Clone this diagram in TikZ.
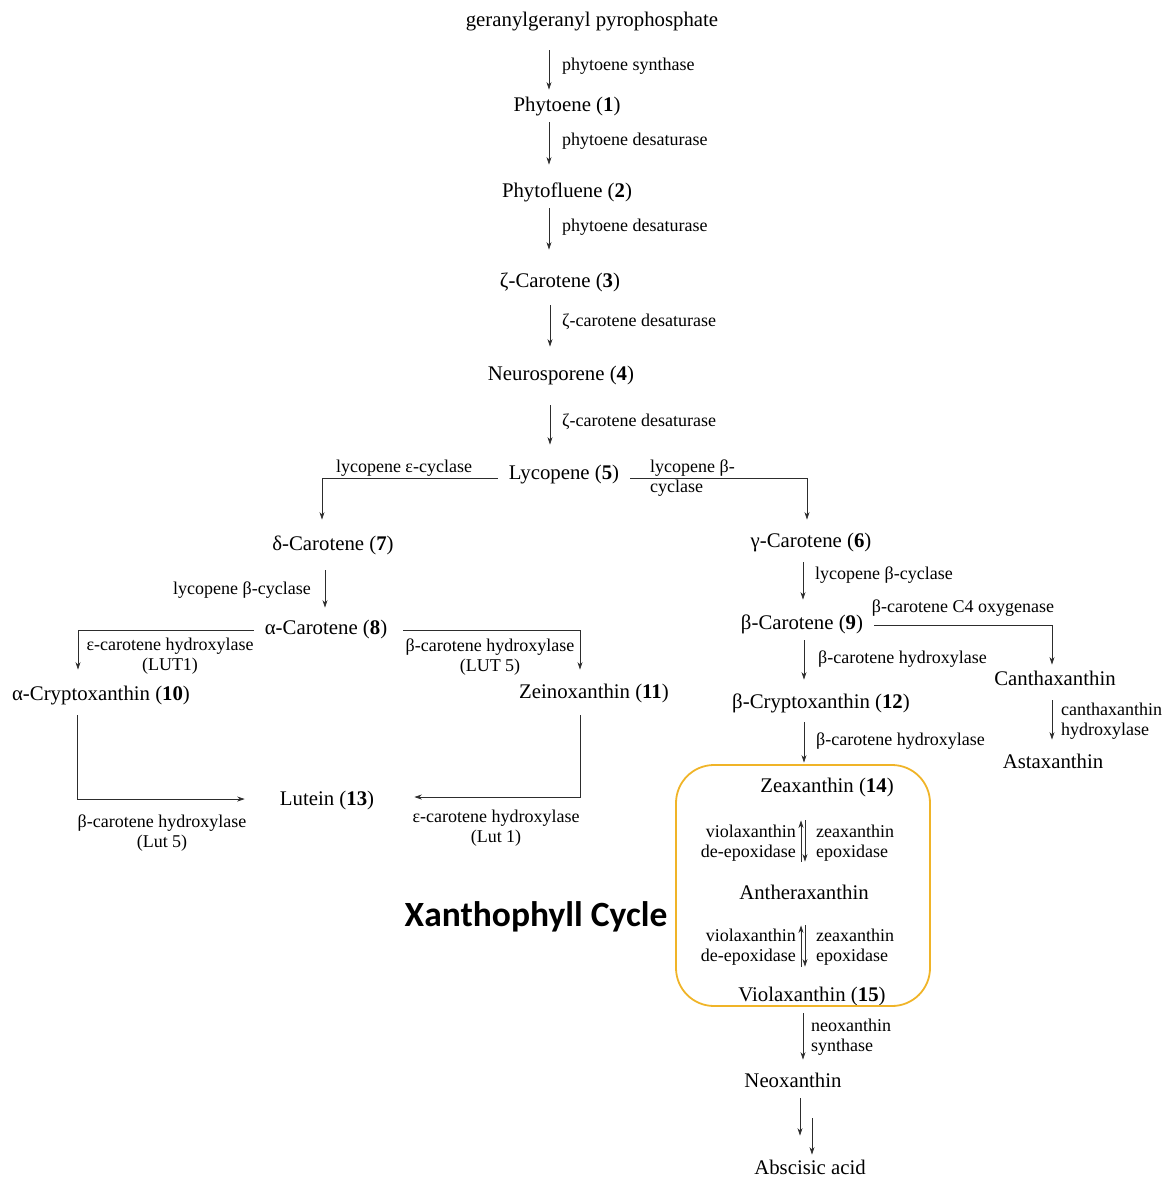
\documentclass[tikz,border=0pt]{standalone}
\usepackage{fontspec}
\setmainfont{Liberation Serif}
\newfontfamily\xcfont{Carlito}
\usetikzlibrary{arrows.meta,calc}
\definecolor{boxorange}{RGB}{240,180,40}
\definecolor{arrgray}{RGB}{45,45,45}
\begin{document}
\begin{tikzpicture}[x=1pt,y=-1pt,
  main/.style={font=\fontsize{20.8}{24}\selectfont, inner sep=0pt, text height=17pt, text depth=1.5pt},
  enz/.style={font=\fontsize{18}{20.5}\selectfont, inner sep=0pt, yshift=-2pt},
  arr/.style={draw=arrgray, line width=0.8pt, -{Stealth[length=7.5pt,width=5pt]}},
]
\useasboundingbox (0,0) rectangle (1167,1177);

% main compounds
\node[main] (n0) at (592,19) {geranylgeranyl pyrophosphate};
\node[main] (n1) at (567,104) {Phytoene (\textbf{1})};
\node[main] (n2) at (567,190) {Phytofluene (\textbf{2})};
\node[main] (n3) at (560,280) {ζ-Carotene (\textbf{3})};
\node[main] (n4) at (561,373) {Neurosporene (\textbf{4})};
\node[main] (n5) at (564,472) {Lycopene (\textbf{5})};
\node[main] (n7) at (333,543) {δ-Carotene (\textbf{7})};
\node[main] (n6) at (811,540) {γ-Carotene (\textbf{6})};
\node[main] (n8) at (326,627) {α-Carotene (\textbf{8})};
\node[main] (n9) at (802,622) {β-Carotene (\textbf{9})};
\node[main] (n10) at (101,693) {α-Cryptoxanthin (\textbf{10})};
\node[main] (n11) at (594,691) {Zeinoxanthin (\textbf{11})};
\node[main] (can) at (1055,678) {Canthaxanthin};
\node[main] (n12) at (821,701) {β-Cryptoxanthin (\textbf{12})};
\node[main] (ast) at (1053,761) {Astaxanthin};
\node[main] (n13) at (327,798) {Lutein (\textbf{13})};
\node[main] (n14) at (827,785) {Zeaxanthin (\textbf{14})};
\node[main] (ant) at (804,892) {Antheraxanthin};
\node[main] (n15) at (812,994) {Violaxanthin (\textbf{15})};
\node[main] (neo) at (793,1080) {Neoxanthin};
\node[main] (aba) at (810,1167) {Abscisic acid};

\node[font=\xcfont\bfseries\fontsize{35.5}{40}\selectfont, inner sep=0pt] (xc) at (536,917) {Xanthophyll Cycle};

% xanthophyll cycle box
\draw[boxorange, line width=1.8pt, rounded corners=38pt] (676,765) rectangle (930,1006);

% axis helpers
\coordinate (ax1) at (549,0);
\coordinate (ax2) at (550,0);

% linear chain
\draw[arr] ($(n0.south-|ax1)+(0,22)$) -- ($(n1.north-|ax1)+(0,-5)$);
\node[enz, anchor=west] (e1) at (562,64) {phytoene synthase};
\draw[arr] ($(n1.south-|ax1)+(0,9)$) -- ($(n2.north-|ax1)+(0,-16)$);
\node[enz, anchor=west] (e2) at (562,139) {phytoene desaturase};
\draw[arr] ($(n2.south-|ax1)+(0,9)$) -- ($(n3.north-|ax1)+(0,-21)$);
\node[enz, anchor=west] (e3) at (562,225) {phytoene desaturase};
\draw[arr] ($(n3.south-|ax2)+(0,16)$) -- ($(n4.north-|ax2)+(0,-17)$);
\node[enz, anchor=west] (e4) at (562,320) {ζ-carotene desaturase};
\draw[arr] ($(n4.south-|ax2)+(0,23)$) -- ($(n5.north-|ax2)+(0,-18)$);
\node[enz, anchor=west] (e5) at (562,420) {ζ-carotene desaturase};

% lycopene branches
\draw[arr] ($(n5.west)+(-11,6)$) -| ($(n7.north)+(-11,-14)$);
\node[enz] (e6) at (404,466) {lycopene ε-cyclase};
\draw[arr] ($(n5.east)+(11,6)$) -| ($(n6.north)+(-4,-11)$);
\node[enz, anchor=west, align=left] (e7) at (650,476) {lycopene β-\\cyclase};

% delta -> alpha
\draw[arr] ($(n7.south)+(-8,18)$) -- ($(n8.north)+(-1,-10)$);
\node[enz, anchor=east] (e8) at (311,588) {lycopene β-cyclase};

% gamma -> beta
\draw[arr] ($(n6.south)+(-8,13)$) -- ($(n9.north)+(1,-13)$);
\node[enz, anchor=west] (e9) at (815,573) {lycopene β-cyclase};

% alpha branches
\draw[arr] ($(n8.west)+(-11,3)$) -| ($(n10.north)+(-23,-14)$);
\node[enz, align=center] (e10) at (170,654) {ε-carotene hydroxylase\\(LUT1)};
\draw[arr] ($(n8.east)+(16,3)$) -| ($(n11.north)+(-14,-12)$);
\node[enz, align=center] (e11) at (490,655) {β-carotene hydroxylase\\(LUT 5)};

% to lutein
\draw[arr] ($(n10.south)+(-24,13)$) |- ($(n13.west)+(-35,1)$);
\node[enz, align=center] (e12) at (162,831) {β-carotene hydroxylase\\(Lut 5)};
\draw[arr] ($(n11.south)+(-14,15)$) |- ($(n13.east)+(40,-1)$);
\node[enz, align=center] (e13) at (496,826) {ε-carotene hydroxylase\\(Lut 1)};

% beta-carotene branches
\draw[arr] ($(n9.east)+(11,3)$) -| ($(can.north)+(-3,-4)$);
\node[enz] (e14) at (963,606) {β-carotene C4 oxygenase};
\draw[arr] ($(n9.south)+(2,9)$) -- ($(n12.north)+(-17,-12)$);
\node[enz, anchor=west] (e15) at (818,657) {β-carotene hydroxylase};
\draw[arr] ($(can.south)+(-3,13)$) -- ($(ast.north)+(-1,-12)$);
\node[enz, anchor=west, align=left] (e16) at (1061,719) {canthaxanthin\\hydroxylase};

% beta-crypto -> zeaxanthin
\draw[arr] ($(n12.south)+(-17,12)$) -- ($(n14.north)+(-23,-13)$);
\node[enz, anchor=west] (e17) at (816,739) {β-carotene hydroxylase};

% xanthophyll cycle
\draw[arr] ($(ant.north)+(-3,-21)$) -- ($(n14.south)+(-26,26)$);
\draw[arr] ($(n14.south)+(-22,26)$) -- ($(ant.north)+(1,-21)$);
\node[enz, anchor=east, align=right] (e18) at (796,841) {violaxanthin\\de-epoxidase};
\node[enz, anchor=west, align=left] (e19) at (816,841) {zeaxanthin\\epoxidase};
\draw[arr] ($(n15.north)+(-11,-18)$) -- ($(ant.south)+(-3,24)$);
\draw[arr] ($(ant.south)+(1,24)$) -- ($(n15.north)+(-7,-18)$);
\node[enz, anchor=east, align=right] (e20) at (796,945) {violaxanthin\\de-epoxidase};
\node[enz, anchor=west, align=left] (e21) at (816,945) {zeaxanthin\\epoxidase};

% violaxanthin -> neoxanthin
\draw[arr] ($(n15.south)+(-9,10)$) -- ($(neo.north)+(10,-11)$);
\node[enz, anchor=west, align=left] (e22) at (811,1035) {neoxanthin\\synthase};

% neoxanthin -> abscisic acid
\draw[arr] ($(neo.south)+(7,9)$) -- ($(aba.north)+(-10,-22)$);
\draw[arr] ($(neo.south)+(19,29)$) -- ($(aba.north)+(2,-3)$);
\end{tikzpicture}
\end{document}
